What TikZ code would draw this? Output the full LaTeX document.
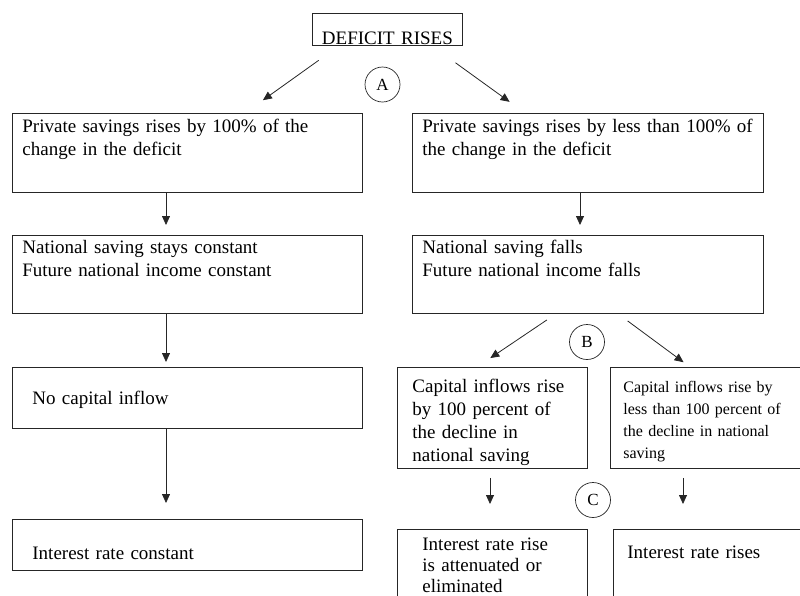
\documentclass[tikz,border=0pt]{standalone}
\usepackage{fontspec}
\setmainfont{Liberation Serif}
\usetikzlibrary{arrows.meta}
\tikzset{
  >={Triangle[length=9pt,width=8pt]},
  stage/.style={draw=black!85, line width=0.8pt, anchor=north west, align=left,
                inner ysep=0pt, font=\fontsize{19}{23}\selectfont},
  branch/.style={circle, draw=black!85, line width=0.7pt, minimum size=35pt,
                 inner sep=0pt, font=\fontsize{17}{20}\selectfont},
  flow/.style={draw=black!85, line width=0.8pt, ->}
}

\begin{document}
\begin{tikzpicture}[x=1pt,y=-1pt]
    \clip (0,0) rectangle (800,595);
    % Top of the tree
    \node[stage, align=center, inner xsep=0pt, text width=150pt, text height=31pt, text depth=1pt]
         (deficit) at (312,13) {DEFICIT RISES};
    \node[branch] (circA) at (382.5,84.5) {A};
    % Left column
    \node[stage, inner xsep=10pt, text width=330pt, text height=19pt, text depth=60pt]
         (prvfull) at (12,113) {Private savings rises by 100\% of the\\change in the deficit};
    \node[stage, inner xsep=10pt, text width=330pt, text height=18pt, text depth=60pt]
         (natconst) at (12,235) {National saving stays constant\\Future national income constant};
    \node[stage, inner xsep=20pt, text width=310pt, text height=37pt, text depth=24pt]
         (nocap) at (12,367) {No capital inflow};
    \node[stage, inner xsep=20pt, text width=310pt, text height=40pt, text depth=11pt]
         (rateconst) at (12,519) {Interest rate constant};
    % Right column
    \node[stage, inner xsep=10pt, text width=331pt, text height=19pt, text depth=60pt]
         (prvless) at (412,113) {Private savings rises by less than 100\% of\\the change in the deficit};
    \node[stage, inner xsep=10pt, text width=331pt, text height=18pt, text depth=60pt]
         (natfall) at (412,235) {National saving falls\\Future national income falls};
    \node[branch] (circB) at (587,342) {B};
    \node[stage, inner xsep=15pt, text width=160pt, text height=25pt, text depth=76pt]
         (capfull) at (397,367) {Capital inflows rise\\by 100 percent of\\the decline in\\national saving};
    \node[stage, inner xsep=13pt, text width=174pt, text height=25pt, text depth=76pt,
          font=\fontsize{16}{22}\selectfont]
         (capless) at (610,367) {Capital inflows rise by\\less than 100 percent of\\the decline in national\\saving};
    \node[branch] (circC) at (593,500) {C};
    \node[stage, inner xsep=25pt, text width=140pt, text height=21pt, text depth=60pt,
          font=\fontsize{19}{21}\selectfont]
         (ratedamp) at (397,529) {Interest rate rise\\is attenuated or\\eliminated};
    \node[stage, inner xsep=14pt, text width=169pt, text height=29pt, text depth=60pt]
         (raterise) at (613,529) {Interest rate rises};
    % Arrows
    \draw[flow, shorten <=25pt, shorten >=22pt] ([xshift=27pt]deficit.south west) -- ([xshift=233pt]prvfull.north west);
    \draw[flow, shorten <=29pt, shorten >=19pt] ([xshift=120pt]deficit.south west) -- ([xshift=113pt]prvless.north west);
    \draw[flow, shorten >=10pt] ([xshift=154pt]prvfull.south west) -- ([xshift=154pt]natconst.north west);
    \draw[flow, shorten >=10pt] ([xshift=168pt]prvless.south west) -- ([xshift=168pt]natfall.north west);
    \draw[flow, shorten >=5pt] ([xshift=154pt]natconst.south west) -- ([xshift=154pt]nocap.north west);
    \draw[flow, shorten >=16pt] ([xshift=154pt]nocap.south west) -- ([xshift=154pt]rateconst.north west);
    \draw[flow, shorten <=11pt, shorten >=16pt] ([xshift=144pt]natfall.south west) -- ([xshift=80pt]capfull.north west);
    \draw[flow, shorten <=12pt, shorten >=8pt] ([xshift=206pt]natfall.south west) -- ([xshift=80pt]capless.north west);
    \draw[flow, shorten <=9pt, shorten >=25pt] ([xshift=93pt]capfull.south west) -- ([xshift=93pt]ratedamp.north west);
    \draw[flow, shorten <=9pt, shorten >=25pt] ([xshift=73pt]capless.south west) -- ([xshift=70pt]raterise.north west);
\end{tikzpicture}
\end{document}
